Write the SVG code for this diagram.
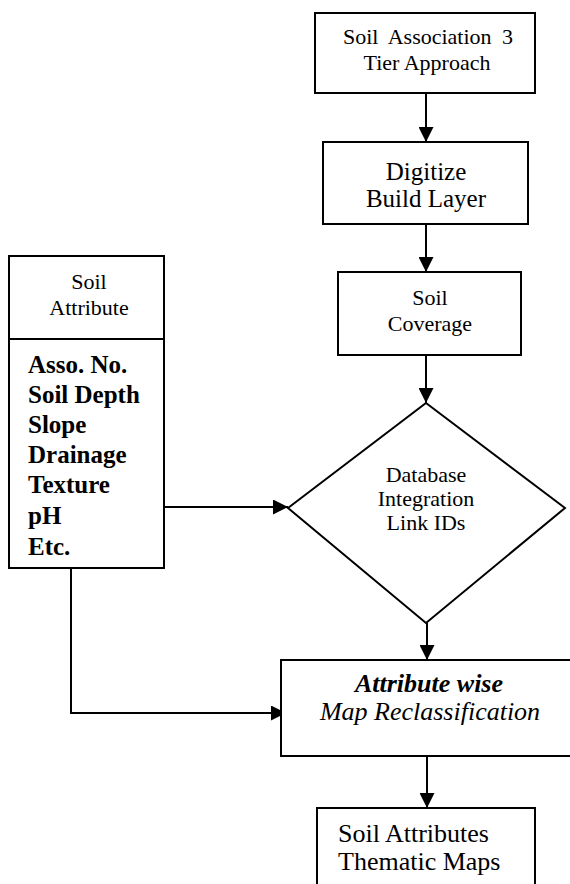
<svg xmlns="http://www.w3.org/2000/svg" width="570" height="884" viewBox="0 0 570 884">
<style>
.box{fill:#fff;stroke:#000;stroke-width:2}
text{font-family:"Liberation Serif","Times New Roman",serif;fill:#000}
.c{text-anchor:middle}
.ln{fill:none;stroke:#000;stroke-width:2}
</style>
<defs>
<marker id="ah" viewBox="0 0 10 10" refX="10" refY="5" markerWidth="15" markerHeight="15" markerUnits="userSpaceOnUse" orient="auto">
<path d="M0,0 L10,5 L0,10 z" fill="#000"/>
</marker>
</defs>
<rect width="570" height="884" fill="#fff"/>
<g id="connectors">
<line class="ln" x1="426" y1="93" x2="426" y2="142" marker-end="url(#ah)"/>
<line class="ln" x1="426" y1="224" x2="426" y2="272" marker-end="url(#ah)"/>
<line class="ln" x1="426" y1="355" x2="426" y2="403" marker-end="url(#ah)"/>
<line class="ln" x1="164" y1="507" x2="288" y2="507" marker-end="url(#ah)"/>
<line class="ln" x1="427" y1="623" x2="427" y2="660" marker-end="url(#ah)"/>
<polyline class="ln" points="71,568 71,713 286,713" marker-end="url(#ah)"/>
<line class="ln" x1="427" y1="756" x2="427" y2="808" marker-end="url(#ah)"/>
</g>
<g id="soil-association">
<rect class="box" x="315" y="13" width="220" height="80"/>
<text class="c" x="428" y="44" font-size="22" word-spacing="5">Soil Association 3</text>
<text class="c" x="427" y="70" font-size="22">Tier Approach</text>
</g>
<g id="digitize">
<rect class="box" x="323" y="142" width="205" height="82"/>
<text class="c" x="426" y="180" font-size="25">Digitize</text>
<text class="c" x="426" y="207" font-size="25">Build Layer</text>
</g>
<g id="soil-coverage">
<rect class="box" x="338" y="272" width="183" height="83"/>
<text class="c" x="430" y="305" font-size="22">Soil</text>
<text class="c" x="430" y="331" font-size="22">Coverage</text>
</g>
<g id="database">
<polygon class="box" points="426,403 565,508 426,623 288,508"/>
<text class="c" x="426" y="482" font-size="22">Database</text>
<text class="c" x="426" y="506" font-size="22">Integration</text>
<text class="c" x="426" y="530" font-size="22">Link IDs</text>
</g>
<g id="soil-attribute">
<rect class="box" x="9" y="256" width="155" height="312"/>
<line class="ln" x1="9" y1="339" x2="164" y2="339"/>
<text class="c" x="89" y="289" font-size="22">Soil</text>
<text class="c" x="89" y="315" font-size="22">Attribute</text>
<g font-size="25" font-weight="bold">
<text x="28" y="373">Asso. No.</text>
<text x="28" y="403">Soil Depth</text>
<text x="28" y="433">Slope</text>
<text x="28" y="463">Drainage</text>
<text x="28" y="493">Texture</text>
<text x="28" y="524">pH</text>
<text x="28" y="555">Etc.</text>
</g>
</g>
<g id="reclassification">
<rect class="box" x="281" y="660" width="300" height="96"/>
<text class="c" x="429" y="692" font-size="26" font-weight="bold" font-style="italic">Attribute wise</text>
<text class="c" x="430" y="720" font-size="26" font-style="italic">Map Reclassification</text>
</g>
<g id="thematic-maps">
<rect class="box" x="317" y="808" width="218" height="90"/>
<text x="338" y="842" font-size="26">Soil Attributes</text>
<text x="338" y="870" font-size="26">Thematic Maps</text>
</g>
</svg>
